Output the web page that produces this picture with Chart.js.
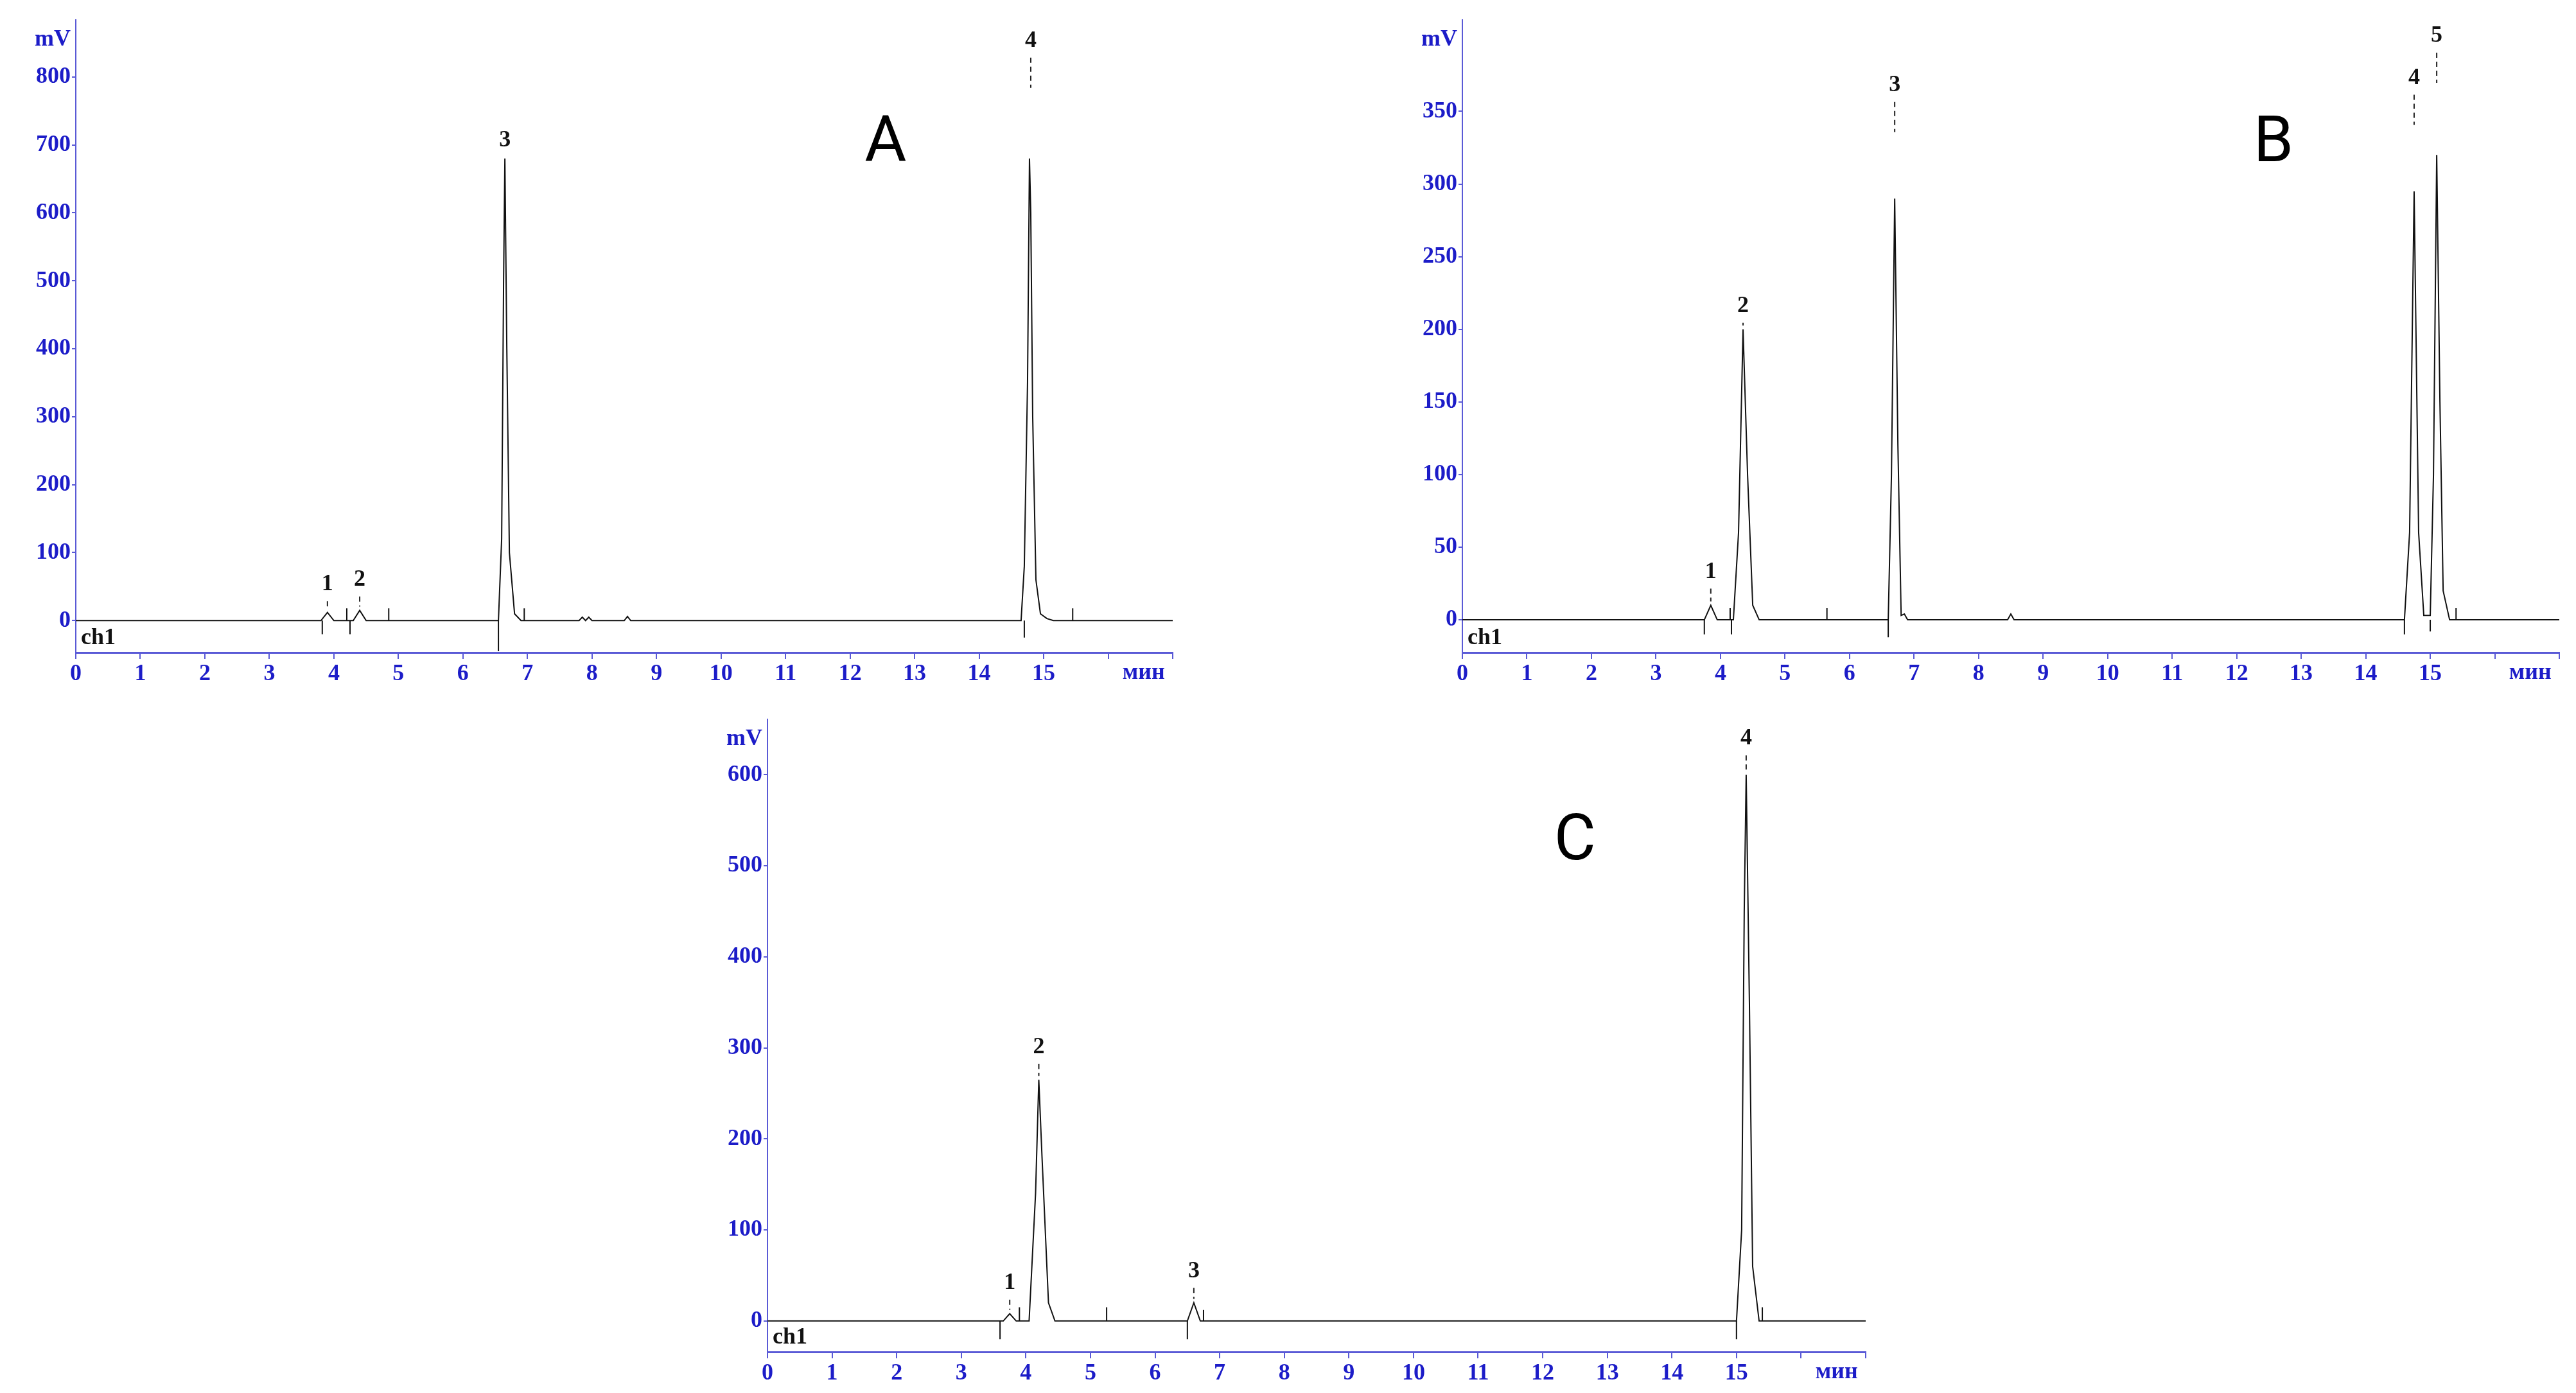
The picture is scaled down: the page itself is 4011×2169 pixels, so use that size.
<!DOCTYPE html>
<html>
<head>
<meta charset="utf-8">
<script src="https://cdn.jsdelivr.net/npm/chart.js@4/dist/chart.umd.min.js"></script>
<style>
  body { margin: 0; background: #fff; width: 4011px; height: 2169px; position: relative; overflow: hidden; }
  .box { position: absolute; }
</style>
</head>
<body>
<div class="box" id="boxA" style="left:0px;top:0px;width:1830px;height:1080px"><canvas id="chartA"></canvas></div>
<div class="box" id="boxB" style="left:2127px;top:0px;width:1862px;height:1080px"><canvas id="chartB"></canvas></div>
<div class="box" id="boxC" style="left:1045px;top:1089px;width:1864px;height:1080px"><canvas id="chartC"></canvas></div>
<script>
// x axis ticks (minutes), shared by all three runs
const xTicks = [0, 1, 2, 3, 4, 5, 6, 7, 8, 9, 10, 11, 12, 13, 14, 15, 16, 17];

// run A
const aTime = [0, 3.8, 3.9, 4.0, 4.3, 4.4, 4.5, 6.55, 6.6, 6.63, 6.65, 6.68, 6.72, 6.8, 6.9, 7.8, 7.85, 7.9, 7.95, 8.0, 8.5, 8.55, 8.6, 14.65, 14.7, 14.75, 14.78, 14.8, 14.83, 14.88, 14.95, 15.05, 15.15, 17];
const aSignal = [0, 0, 12, 0, 0, 15, 0, 0, 120, 500, 680, 400, 100, 10, 0, 0, 5, 0, 5, 0, 0, 6, 0, 0, 80, 350, 680, 600, 300, 60, 10, 3, 0, 0];
const aMarkTime = [3.82, 4.2, 4.25, 4.85, 6.55, 6.95, 14.7, 15.45];
const aMarkLen = [-20, 18, -20, 18, -45, 18, -25, 18];
const aPeakNo = ['1', '2', '3', '4'];
const aPeakTime = [3.9, 4.4, 6.65, 14.8];
const aPeakTop = [12, 15, 680, 680];
const aLabelY = [36, 43, 690, 836];
const aYTicks = [0, 100, 200, 300, 400, 500, 600, 700, 800];

// run B
const bTime = [0, 3.75, 3.85, 3.95, 4.2, 4.28, 4.35, 4.42, 4.5, 4.6, 6.6, 6.65, 6.7, 6.75, 6.8, 6.85, 6.9, 8.45, 8.5, 8.55, 14.6, 14.68, 14.75, 14.82, 14.9, 15.0, 15.05, 15.1, 15.15, 15.2, 15.3, 17];
const bSignal = [0, 0, 10, 0, 0, 60, 200, 100, 10, 0, 0, 100, 290, 120, 3, 4, 0, 0, 4, 0, 0, 60, 295, 60, 3, 3, 100, 320, 150, 20, 0, 0];
const bMarkTime = [3.75, 4.15, 4.17, 5.65, 6.6, 14.6, 15.0, 15.4];
const bMarkLen = [-10, 8, -10, 8, -12, -10, -8, 8];
const bPeakNo = ['1', '2', '3', '4', '5'];
const bPeakTime = [3.85, 4.35, 6.7, 14.75, 15.1];
const bPeakTop = [10, 200, 290, 295, 320];
const bLabelY = [25, 208, 360, 365, 394];
const bYTicks = [0, 50, 100, 150, 200, 250, 300, 350];

// run C
const cTime = [0, 3.65, 3.75, 3.85, 4.05, 4.15, 4.2, 4.25, 4.35, 4.45, 6.5, 6.6, 6.7, 6.8, 15.0, 15.08, 15.12, 15.15, 15.2, 15.25, 15.35, 17];
const cSignal = [0, 0, 8, 0, 0, 140, 265, 180, 20, 0, 0, 20, 0, 0, 0, 100, 450, 600, 350, 60, 0, 0];
const cMarkTime = [3.6, 3.9, 5.25, 6.5, 6.75, 15.0, 15.4];
const cMarkLen = [-20, 15, 15, -20, 12, -20, 15];
const cPeakNo = ['1', '2', '3', '4'];
const cPeakTime = [3.75, 4.2, 6.6, 15.15];
const cPeakTop = [8, 265, 20, 600];
const cLabelY = [29, 288, 42, 627];
const cYTicks = [0, 100, 200, 300, 400, 500, 600];

const BLUE = '#1c1cc8';
const AXIS = '#5a5ad6';
const SERIF = "'Liberation Serif', 'DejaVu Serif', serif";

function markSegments(times, lens) {
  const pts = [];
  times.forEach((t, i) => {
    pts.push({x: t, y: 0}, {x: t, y: lens[i]}, {x: t, y: null});
  });
  return pts;
}

function makeChart(id, opt) {
  const annot = {
    id: 'annot',
    afterDatasetsDraw(chart) {
      const ctx = chart.ctx;
      const xs = chart.scales.x, ys = chart.scales.y;
      const area = chart.chartArea;
      ctx.save();
      // peak numbers with dashed leaders
      ctx.font = 'bold 36px ' + SERIF;
      ctx.fillStyle = '#111';
      ctx.textAlign = 'center';
      ctx.textBaseline = 'bottom';
      opt.peakNo.forEach((n, i) => {
        const px = xs.getPixelForValue(opt.peakTime[i]);
        const ly = ys.getPixelForValue(opt.labelY[i]);
        ctx.fillText(n, px, ly);
        const top = ys.getPixelForValue(opt.peakTop[i]);
        const end = Math.min(top - 6, ly + 55);
        if (end > ly + 8) {
          ctx.strokeStyle = '#222';
          ctx.lineWidth = 2;
          ctx.setLineDash([8, 6]);
          ctx.beginPath();
          ctx.moveTo(px, ly + 8);
          ctx.lineTo(px, end);
          ctx.stroke();
          ctx.setLineDash([]);
        }
      });
      // panel letter
      ctx.font = '100px Roboto, Arial, sans-serif';
      ctx.textBaseline = 'middle';
      ctx.fillStyle = '#000';
      ctx.fillText(opt.letter, xs.getPixelForValue(opt.letterX), ys.getPixelForValue(opt.letterY));
      // mV, ch1, мин
      ctx.font = 'bold 36px ' + SERIF;
      ctx.fillStyle = BLUE;
      ctx.textAlign = 'right';
      ctx.textBaseline = 'middle';
      ctx.fillText('mV', area.left - 8, opt.mvY);
      ctx.fillStyle = '#111';
      ctx.textAlign = 'left';
      ctx.textBaseline = 'bottom';
      ctx.fillText('ch1', area.left + 8, area.bottom - 4);
      ctx.fillStyle = BLUE;
      ctx.textAlign = 'center';
      ctx.textBaseline = 'top';
      ctx.fillText('мин', xs.getPixelForValue(16.55), area.bottom + 14);
      ctx.restore();
    }
  };

  return new Chart(document.getElementById(id), {
    type: 'line',
    data: {
      datasets: [{
        data: opt.time.map((t, i) => ({x: t, y: opt.signal[i]})),
        borderColor: '#111',
        borderWidth: 2,
        pointRadius: 0,
        tension: 0,
        fill: false,
      }, {
        data: markSegments(opt.markTime, opt.markLen),
        borderColor: '#111',
        borderWidth: 2,
        pointRadius: 0,
        spanGaps: false,
        fill: false,
      }]
    },
    options: {
      responsive: true,
      maintainAspectRatio: false,
      animation: false,
      devicePixelRatio: 1,
      layout: { padding: { top: opt.padTop, right: 4, left: 0, bottom: 0 } },
      plugins: { legend: { display: false }, tooltip: { enabled: false } },
      scales: {
        x: {
          type: 'linear',
          min: 0,
          max: 17,
          afterBuildTicks: s => { s.ticks = xTicks.map(v => ({value: v})); },
          afterFit: s => { s.height = 64; },
          grid: { drawOnChartArea: false, color: AXIS, tickLength: 10, lineWidth: 2 },
          border: { color: AXIS, width: 3 },
          ticks: {
            color: BLUE,
            font: { family: SERIF, weight: 'bold', size: 36 },
            padding: 2,
            maxRotation: 0,
            callback: v => (v <= 15 ? String(v) : '')
          }
        },
        y: {
          min: opt.yMin,
          max: opt.yMax,
          afterBuildTicks: s => { s.ticks = opt.yTicks.map(v => ({value: v})); },
          afterFit: s => { s.width = opt.yWidth; },
          grid: { drawOnChartArea: false, color: AXIS, tickLength: 6, lineWidth: 2 },
          border: { color: AXIS, width: 2 },
          ticks: {
            color: BLUE,
            font: { family: SERIF, weight: 'bold', size: 36 },
            padding: 2
          }
        }
      }
    },
    plugins: [annot]
  });
}

makeChart('chartA', {
  time: aTime, signal: aSignal, markTime: aMarkTime, markLen: aMarkLen,
  peakNo: aPeakNo, peakTime: aPeakTime, peakTop: aPeakTop, labelY: aLabelY,
  yTicks: aYTicks, yMin: -47, yMax: 884, yWidth: 118, padTop: 31, mvY: 62,
  letter: 'A', letterX: 12.55, letterY: 700
});
makeChart('chartB', {
  time: bTime, signal: bSignal, markTime: bMarkTime, markLen: bMarkLen,
  peakNo: bPeakNo, peakTime: bPeakTime, peakTop: bPeakTop, labelY: bLabelY,
  yTicks: bYTicks, yMin: -22.5, yMax: 413, yWidth: 150, padTop: 31, mvY: 62,
  letter: 'B', letterX: 12.57, letterY: 327
});
makeChart('chartC', {
  time: cTime, signal: cSignal, markTime: cMarkTime, markLen: cMarkLen,
  peakNo: cPeakNo, peakTime: cPeakTime, peakTop: cPeakTop, labelY: cLabelY,
  yTicks: cYTicks, yMin: -34, yMax: 661, yWidth: 150, padTop: 31, mvY: 62,
  letter: 'C', letterX: 12.5, letterY: 525
});
</script>
</body>
</html>
